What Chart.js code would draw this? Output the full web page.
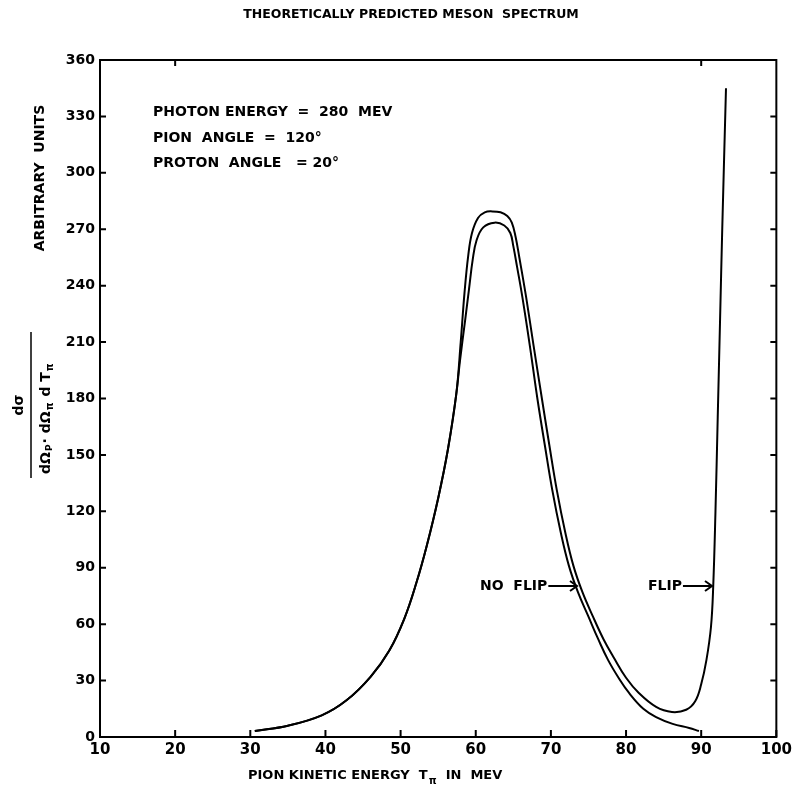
<!DOCTYPE html>
<html>
<head>
<meta charset="utf-8">
<title>Theoretically predicted meson spectrum</title>
<script src="https://cdn.jsdelivr.net/npm/chart.js@4.4.1/dist/chart.umd.min.js"></script>
<style>
  html, body { margin: 0; padding: 0; background: #fff; }
  #wrap { width: 796px; height: 795px; }
</style>
</head>
<body>
<div id="wrap"><canvas id="spectrum" width="796" height="795"></canvas></div>
<script>
// pion kinetic energy (MeV) and cross section (arbitrary units)
const energyFlip = [30.6, 35, 39.5, 42.8, 46.0, 48.5, 50.5, 52.1, 53.5, 55.0, 56.3, 57.4, 58.0, 58.5, 59.0, 59.5, 60.3, 61.2, 62.2, 63.3, 64.2, 64.8, 65.3, 65.8, 66.7, 67.7, 68.8, 69.8, 70.8, 71.9, 73.0, 74.2, 75.6, 77.0, 78.4, 80.0, 81.7, 84.0, 86.1, 88.0, 89.2, 90.0, 90.7, 91.3, 91.6, 91.9, 92.2, 92.5, 92.8, 93.3];
const sigmaFlip  = [3.2, 6.0, 11.5, 19.5, 32, 46, 63, 82, 102, 127, 153, 182, 210, 236, 256, 268, 276, 279, 279.5, 279, 277, 273.5, 266, 255, 234, 208, 180, 155, 131, 109, 91, 77, 64, 52, 42, 31.5, 23.4, 16, 13.3, 14.5, 19, 28, 41, 58.5, 80, 120, 170, 220, 270, 345];

const energyNoFlip = [30.6, 35, 39.5, 42.8, 46.0, 48.5, 50.5, 52.1, 53.5, 55.0, 56.3, 57.4, 57.9, 58.6, 59.1, 59.6, 60.1, 61.0, 62.5, 63.8, 64.6, 65.0, 65.5, 66.2, 67.2, 68.2, 69.2, 70.2, 71.3, 72.4, 73.6, 75.0, 76.3, 77.6, 79.0, 80.4, 82.3, 84.0, 86.2, 88.4, 89.7];
const sigmaNoFlip  = [3.2, 6.0, 11.5, 19.5, 32, 46, 63, 82, 102, 127, 153, 182, 200, 222, 238, 254, 264, 271, 273.5, 272, 268, 261, 250, 234, 208, 180, 155, 131, 109, 91, 77, 64, 52, 41, 31.5, 23.4, 15, 10.6, 7, 4.8, 3.2];

const xTicks = [10, 20, 30, 40, 50, 60, 70, 80, 90, 100];
const topTicks = [20, 90];
const yTicks = [0, 30, 60, 90, 120, 150, 180, 210, 240, 270, 300, 330, 360];

const font = '"DejaVu Sans", "Liberation Sans", sans-serif';

function toPoints(xs, ys) {
  return xs.map((x, i) => ({ x: x, y: ys[i] }));
}

function arrow(ctx, x1, x2, y) {
  ctx.beginPath();
  ctx.lineWidth = 2;
  ctx.moveTo(x1, y);
  ctx.lineTo(x2, y);
  ctx.moveTo(x2 - 7, y - 5);
  ctx.lineTo(x2, y);
  ctx.lineTo(x2 - 7, y + 5);
  ctx.stroke();
}

// frame, inward ticks, titles and notes
const decorations = {
  id: 'decorations',
  afterDraw(chart) {
    const ctx = chart.ctx;
    const area = chart.chartArea;
    const xs = chart.scales.x;
    const ys = chart.scales.y;
    ctx.save();
    ctx.strokeStyle = '#000';
    ctx.lineWidth = 2;
    ctx.strokeRect(area.left, area.top, area.right - area.left, area.bottom - area.top);

    xTicks.forEach(v => {
      const px = xs.getPixelForValue(v);
      ctx.beginPath();
      ctx.moveTo(px, area.bottom);
      ctx.lineTo(px, area.bottom - 7);
      ctx.stroke();
    });
    topTicks.forEach(v => {
      const px = xs.getPixelForValue(v);
      ctx.beginPath();
      ctx.moveTo(px, area.top);
      ctx.lineTo(px, area.top + 6);
      ctx.stroke();
    });
    yTicks.forEach(v => {
      const py = ys.getPixelForValue(v);
      ctx.beginPath();
      ctx.moveTo(area.left, py);
      ctx.lineTo(area.left + 6, py);
      ctx.moveTo(area.right, py);
      ctx.lineTo(area.right - 6, py);
      ctx.stroke();
    });

    ctx.fillStyle = '#000';
    ctx.textBaseline = 'middle';

    // title
    ctx.font = 'bold 12.5px ' + font;
    ctx.textAlign = 'center';
    ctx.fillText('THEORETICALLY PREDICTED MESON  SPECTRUM', 411, 15);

    // x axis title
    ctx.font = 'bold 13px ' + font;
    ctx.textAlign = 'left';
    ctx.fillText('PION KINETIC ENERGY  T', 248, 776);
    let w = ctx.measureText('PION KINETIC ENERGY  T').width;
    ctx.font = 'bold 10px ' + font;
    ctx.fillText('\u03c0', 248 + w + 1, 781);
    ctx.font = 'bold 13px ' + font;
    ctx.fillText('IN  MEV', 248 + w + 18, 776);

    // notes
    ctx.font = 'bold 14px ' + font;
    ctx.fillText('PHOTON ENERGY  =  280  MEV', 153, 112);
    ctx.fillText('PION  ANGLE  =  120\u00b0', 153, 138);
    ctx.fillText('PROTON  ANGLE   = 20\u00b0', 153, 163);
    ctx.fillText('NO  FLIP', 480, 586);
    arrow(ctx, 480 + ctx.measureText('NO  FLIP').width + 1, 577, 586);
    ctx.fillText('FLIP', 648, 586);
    arrow(ctx, 648 + ctx.measureText('FLIP').width + 1, 712, 586);

    // y axis titles (rotated)
    ctx.save();
    ctx.translate(40, 178);
    ctx.rotate(-Math.PI / 2);
    ctx.textAlign = 'center';
    ctx.fillText('ARBITRARY  UNITS', 0, 0);
    ctx.restore();

    ctx.save();
    ctx.rotate(-Math.PI / 2);
    // numerator
    ctx.textAlign = 'center';
    ctx.font = 'bold 14px ' + font;
    ctx.fillText('d\u03c3', -405, 19);
    // fraction bar
    ctx.beginPath();
    ctx.lineWidth = 1.5;
    ctx.moveTo(-478, 31);
    ctx.lineTo(-332, 31);
    ctx.stroke();
    // denominator
    ctx.textAlign = 'left';
    let x0 = -474;
    const y0 = 46;
    const parts = [['d\u03a9', 14, 0], ['P', 9, 4], ['\u00b7 d\u03a9', 14, 0], ['\u03c0', 10, 4], [' d T', 14, 0], ['\u03c0', 10, 4]];
    parts.forEach(p => {
      ctx.font = 'bold ' + p[1] + 'px ' + font;
      ctx.fillText(p[0], x0, y0 + p[2]);
      x0 += ctx.measureText(p[0]).width + 1;
    });
    ctx.restore();

    ctx.restore();
  }
};

new Chart(document.getElementById('spectrum').getContext('2d'), {
  type: 'scatter',
  data: {
    datasets: [
      {
        label: 'Flip',
        data: toPoints(energyFlip, sigmaFlip),
        showLine: true,
        borderColor: '#000',
        borderWidth: 2,
        pointRadius: 0,
        tension: 0.4,
      },
      {
        label: 'No flip',
        data: toPoints(energyNoFlip, sigmaNoFlip),
        showLine: true,
        borderColor: '#000',
        borderWidth: 2,
        pointRadius: 0,
        tension: 0.4,
      }
    ]
  },
  options: {
    responsive: false,
    animation: false,
    layout: { padding: { top: 60, right: 18, left: 0, bottom: 0 } },
    plugins: {
      legend: { display: false },
      tooltip: { enabled: false },
      title: { display: false }
    },
    scales: {
      x: {
        type: 'linear',
        min: 10,
        max: 100,
        afterBuildTicks: scale => { scale.ticks = xTicks.map(v => ({ value: v })); },
        afterFit: scale => { scale.height = 58; },
        grid: { display: false, drawTicks: false },
        border: { display: false },
        ticks: {
          color: '#000',
          padding: 4,
          font: { family: font, size: 15, weight: 'bold' }
        }
      },
      y: {
        type: 'linear',
        min: 0,
        max: 360,
        afterBuildTicks: scale => { scale.ticks = yTicks.map(v => ({ value: v })); },
        afterFit: scale => { scale.width = 100; },
        grid: { display: false, drawTicks: false },
        border: { display: false },
        ticks: {
          color: '#000',
          padding: 5,
          font: { family: font, size: 14, weight: 'bold' }
        }
      }
    }
  },
  plugins: [decorations]
});
</script>
</body>
</html>
